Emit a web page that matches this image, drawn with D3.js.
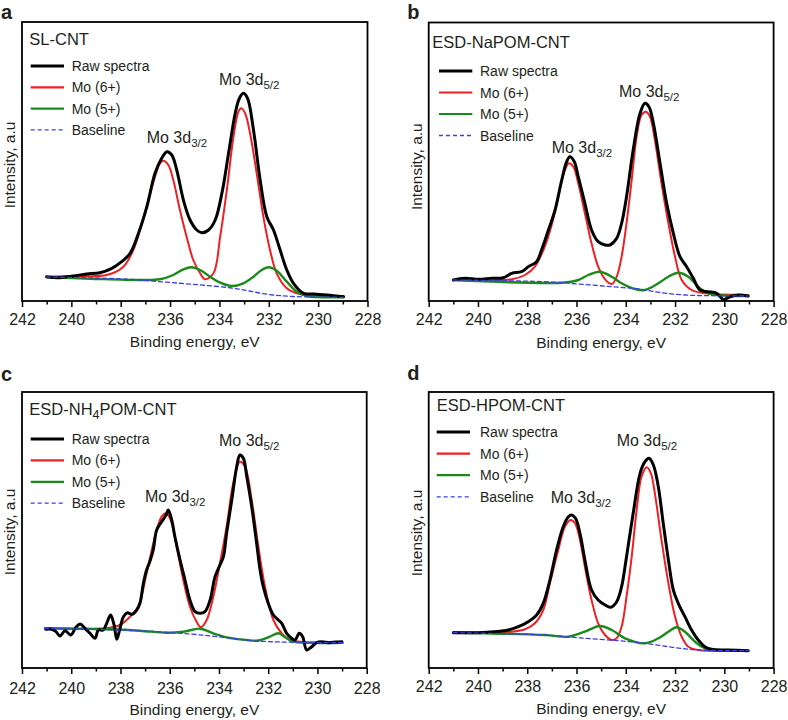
<!DOCTYPE html>
<html><head><meta charset="utf-8">
<script src="https://cdn.jsdelivr.net/npm/d3@7"></script>
<style>
body{margin:0;background:#fff}
svg{display:block}
text{font-family:"Liberation Sans",Arial,Helvetica,sans-serif;fill:#231f20}
</style>
</head><body>
<svg id="chart" width="788" height="720"></svg>
<script>
// ---------- DATA (binding energy eV, intensity a.u.) ----------
const panelLetters = ["a", "b", "c", "d"];
const sampleNames = [
  [["SL-CNT", false]],
  [["ESD-NaPOM-CNT", false]],
  [["ESD-NH", false], ["4", true], ["POM-CNT", false]],
  [["ESD-HPOM-CNT", false]]
];
const legendLabels = ["Raw spectra", "Mo (6+)", "Mo (5+)", "Baseline"];
const peakLabels = [["Mo 3d", "5/2"], ["Mo 3d", "3/2"]];
const xMajorTicks = [242, 240, 238, 236, 234, 232, 230, 228];
const xMinorTicks = [241, 239, 237, 235, 233, 231, 229];
const xTitle = "Binding energy, eV";
const yTitle = "Intensity, a.u";

const rawA = [[241.0,24.3],[240.46,23.3],[239.92,25],[239.38,27],[238.84,28.3],[238.36,32.7],[237.96,39.3],[237.62,47.7],[237.28,67.7],[236.94,94.3],[236.61,127.7],[236.34,142.7],[236.13,149.3],[235.93,146],[235.73,131],[235.46,101],[235.19,81],[234.92,71],[234.71,68.3],[234.44,71],[234.17,81],[233.90,107.7],[233.63,147.7],[233.36,187.7],[233.19,202.7],[233.03,207.7],[232.86,202.7],[232.62,171],[232.35,121],[232.08,84.3],[231.81,71],[231.54,51],[231.27,31],[231.0,17.7],[230.59,7.7],[230.19,7],[229.65,6],[228.97,4.3]];
const mo6A = [[241.0,24.3],[239.92,25],[238.57,26],[237.89,34.3],[237.49,51],[237.22,71],[236.95,94.3],[236.61,124.3],[236.41,137.7],[236.27,140.3],[236.07,136],[235.87,121],[235.60,91],[235.33,64.3],[235.06,41],[234.78,27.7],[234.58,21.7],[234.24,27.7],[233.97,64.3],[233.70,111],[233.43,164.3],[233.23,189.3],[233.12,192.7],[232.96,187.7],[232.76,167.7],[232.49,127.7],[232.22,84.3],[231.95,51],[231.68,27.7],[231.27,12.7],[230.87,7.7],[230.46,6],[228.97,5]];
const mo5A = [[241.0,23.7],[239.24,22.3],[237.22,21],[236.41,21.7],[235.87,26],[235.46,31.7],[235.12,33.7],[234.78,31],[234.38,24.3],[233.97,18.3],[233.50,15],[233.03,17.7],[232.62,24.3],[232.29,31],[232.00,33.7],[231.68,30.3],[231.27,19.3],[230.87,9.3],[230.46,5],[228.97,3.7]];
const baseA = [[241.0,24],[239.0,23],[237.5,21.5],[236.5,19.5],[235.5,17.5],[234.5,15.5],[233.5,13],[232.8,10],[232.0,6.5],[231.0,4.5],[228.97,3.7]];

const rawB = [[241.0,21],[240.53,22.7],[239.99,21.7],[239.44,22.7],[238.97,23.3],[238.63,27.7],[238.23,29.3],[237.96,34.3],[237.62,39.3],[237.42,51],[237.14,71],[236.87,91],[236.60,121],[236.40,139.3],[236.27,144.3],[236.09,139.3],[235.93,124.3],[235.66,97.7],[235.39,71],[235.12,59.3],[234.84,56],[234.64,56],[234.37,62.7],[234.17,77.7],[233.97,104.3],[233.70,151],[233.42,187.7],[233.22,197.7],[233.06,194.3],[232.88,177.7],[232.61,137.7],[232.34,97.7],[232.07,67.7],[231.80,44.3],[231.53,34.3],[231.26,22.7],[230.99,11],[230.65,9.3],[230.31,7.7],[230.04,1.5],[229.77,4.3],[229.43,6],[229.03,5]];
const mo6B = [[241.0,21],[238.63,21.7],[238.09,26],[237.69,34.3],[237.28,55],[237.01,76],[236.67,112],[236.47,131],[236.31,137.7],[236.13,134.3],[235.93,117.7],[235.66,87.7],[235.39,57.7],[235.12,34.3],[234.84,21.7],[234.57,17],[234.37,24.3],[234.17,44.3],[233.97,77.7],[233.76,121],[233.56,164.3],[233.36,186],[233.18,189.3],[233.02,184.3],[232.82,161],[232.55,117.7],[232.27,77.7],[232.00,44.3],[231.73,21],[231.33,11],[230.79,7.7],[229.03,6]];
const mo5B = [[241.0,21],[236.60,18.3],[235.93,21],[235.52,26],[235.05,29.3],[234.57,24.3],[234.17,17.7],[233.63,12],[233.22,11],[232.68,17.7],[232.27,24.3],[231.87,28.3],[231.46,24.3],[231.06,14.3],[230.65,7.7],[229.03,5]];
const baseB = [[241.0,21],[237.28,19.3],[235.93,17],[234.57,14.3],[233.49,12],[232.55,8.3],[231.6,6],[230.5,5.3],[229.03,5]];

const rawC = [[241.03,38.7],[240.79,38.7],[240.62,36.3],[240.46,32],[240.25,37.3],[240.02,33],[239.81,40.7],[239.64,44],[239.44,39.7],[239.24,34.7],[239.03,29.7],[238.90,38],[238.70,38],[238.56,44.7],[238.40,53],[238.26,43],[238.15,28.7],[238.02,39.7],[237.88,51.3],[237.72,55.3],[237.54,53.7],[237.34,58],[237.21,64.7],[237.07,84.7],[236.94,98],[236.80,107],[236.67,118],[236.53,138],[236.33,146.3],[236.15,153],[236.06,158],[235.92,148],[235.79,131.3],[235.58,108],[235.38,88],[235.18,68],[234.97,56.3],[234.77,54.7],[234.57,56.3],[234.36,68],[234.16,91.3],[233.96,103],[233.82,111.3],[233.69,134.7],[233.48,168],[233.28,201.3],[233.15,213],[233.01,209.7],[232.87,191.3],[232.67,161.3],[232.47,124.7],[232.33,98],[232.20,81.3],[232.00,64.7],[231.79,53],[231.59,48],[231.45,44.7],[231.25,34.7],[231.05,29.7],[230.91,28],[230.74,34.7],[230.60,31.3],[230.44,18],[230.23,21.3],[230.03,25.5],[229.83,26.3],[229.5,25.3],[229.29,26],[229.01,26.3]];
const mo6C = [[241.07,39.7],[238.56,39.7],[238.02,43],[237.61,51.3],[237.28,61.3],[236.94,94.7],[236.60,131.3],[236.33,151.3],[236.15,154.7],[235.96,148],[235.72,121.3],[235.45,88],[235.18,61.3],[234.91,46.3],[234.73,40.7],[234.50,48],[234.23,71.3],[233.96,104.7],[233.69,141.3],[233.42,184.7],[233.15,206.3],[232.94,201.3],[232.67,168],[232.40,121.3],[232.13,81.3],[231.79,48],[231.45,34.7],[231.11,28],[230.71,26.3],[228.98,25.3]];
const mo5C = [[241.07,39.7],[238.56,38.7],[237.21,37.3],[236.12,35.3],[235.45,36.3],[234.77,39.3],[234.23,34.7],[233.69,30.7],[232.87,28],[232.47,27.3],[231.93,31.3],[231.59,34.7],[231.25,29.7],[230.98,26.3],[228.98,25.3]];
const baseC = [[241.07,39.7],[237.28,37.3],[235.18,34],[233.82,30.7],[232.6,27.3],[231.5,26],[228.98,25.3]];

const rawD = [[241.0,35.3],[239.99,35.3],[239.31,36.3],[238.77,38],[238.36,41.3],[237.96,46.3],[237.62,53],[237.35,64.7],[237.08,88],[236.81,118],[236.54,141.3],[236.33,151.3],[236.20,153],[236.04,149.7],[235.86,134.7],[235.66,108],[235.39,78],[235.12,68],[234.84,63],[234.62,60.7],[234.37,66.3],[234.17,81.3],[233.97,111.3],[233.70,154.7],[233.42,194.7],[233.22,206.3],[233.06,209.7],[232.88,203],[232.68,181.3],[232.48,144.7],[232.27,108],[232.07,78],[231.87,64.7],[231.60,51.3],[231.33,38],[231.06,28],[230.79,21.3],[230.52,18.7],[229.84,18],[229.03,17.3]];
const mo6D = [[241.0,35.3],[238.63,36.3],[238.09,38.7],[237.69,44.7],[237.35,58],[237.08,84.7],[236.74,118],[236.47,141.3],[236.24,148],[236.06,144.7],[235.86,128],[235.66,101.3],[235.39,68],[235.12,44.7],[234.84,33],[234.57,28],[234.37,29.7],[234.17,41.3],[233.97,71.3],[233.76,111.3],[233.56,158],[233.36,191.3],[233.15,200.7],[232.98,194.7],[232.82,174.7],[232.55,128],[232.27,84.7],[232.00,51.3],[231.73,31.3],[231.46,21.3],[231.06,18],[229.03,17.3]];
const mo5D = [[241.0,35.3],[237.28,33],[236.33,31.3],[235.66,36.3],[235.05,42],[234.57,38],[234.03,29.7],[233.22,24.7],[232.68,29.7],[232.27,36.3],[231.94,40.7],[231.60,36.3],[231.19,26.3],[230.79,19.7],[229.03,17.3]];
const baseD = [[241.0,35.3],[237.28,33],[235.66,29.7],[234.3,27.3],[233.22,24.7],[232.1,20.7],[231.06,18],[229.03,17.3]];

// ---------- LAYOUT ----------
const panels = [
  {raw: rawA, mo6: mo6A, mo5: mo5A, base: baseA, frame: [22, 367.5, 22, 301], yMax: 279,
   letter: [1, 18.5], name: [29.3, 45], legend: {x: 30.7, y: 66, step: 21.3, tx: 71.7},
   p52: [219, 85], p32: [146.7, 142.5], ylab: [15, 165], tickBase: 325, titleBase: 347},
  {raw: rawB, mo6: mo6B, mo5: mo5B, base: baseB, frame: [428.7, 773.6, 22.5, 301], yMax: 278.5,
   letter: [407.3, 18.5], name: [432.3, 48.3], legend: {x: 439, y: 71, step: 21.5, tx: 480},
   p52: [619, 97], p32: [551.7, 153], ylab: [422, 166.7], tickBase: 325, titleBase: 348},
  {raw: rawC, mo6: mo6C, mo5: mo5C, base: baseC, frame: [22, 366.7, 392, 668], yMax: 276,
   letter: [1, 380.5], name: [29.3, 415], legend: {x: 30.7, y: 439, step: 21.4, tx: 71.7},
   p52: [219, 446], p32: [145, 501.5], ylab: [15, 532], tickBase: 693.5, titleBase: 715},
  {raw: rawD, mo6: mo6D, mo5: mo5D, base: baseD, frame: [428.7, 773.6, 392, 668], yMax: 276,
   letter: [407.3, 380], name: [436.7, 411], legend: {x: 436.7, y: 432, step: 21.6, tx: 480},
   p52: [616.7, 446], p32: [550.7, 502.5], ylab: [421.7, 533], tickBase: 692, titleBase: 713.5}
];

const styles = [
  {color: "#000000", width: 3.0, dash: null},
  {color: "#ee2024", width: 2.0, dash: null},
  {color: "#1b8a1b", width: 2.4, dash: null},
  {color: "#3c3cf0", width: 1.3, dash: "4,3"}
];

const svg = d3.select("#chart");

panels.forEach((p, i) => {
  const [x0, x1, y0, y1] = p.frame;
  const x = d3.scaleLinear().domain([242, 228]).range([x0, x1]);
  const y = d3.scaleLinear().domain([0, p.yMax]).range([y1, y0]);
  const g = svg.append("g");

  const line = d3.line().x(d => x(d[0])).y(d => y(d[1])).curve(d3.curveCatmullRom.alpha(0.5));

  // curves: red, green, raw, baseline
  const order = [[p.mo6, 1], [p.mo5, 2], [p.raw, 0], [p.base, 3]];
  order.forEach(([data, si]) => {
    const s = styles[si];
    g.append("path").datum(data).attr("d", line)
      .attr("fill", "none").attr("stroke", s.color).attr("stroke-width", s.width)
      .attr("stroke-linejoin", "round").attr("stroke-linecap", "round")
      .attr("stroke-dasharray", s.dash);
  });

  // frame
  g.append("rect").attr("x", x0).attr("y", y0).attr("width", x1 - x0).attr("height", y1 - y0)
    .attr("fill", "none").attr("stroke", "#000").attr("stroke-width", 1.8);

  // axes
  const major = g.append("g").attr("transform", `translate(0,${y1})`)
    .call(d3.axisBottom(x).tickValues(xMajorTicks).tickSize(6).tickPadding(7).tickFormat(d3.format("d")));
  major.select(".domain").remove();
  major.selectAll("line").attr("stroke", "#000").attr("stroke-width", 1.5);
  major.selectAll("text").attr("font-size", 16).attr("fill", "#231f20")
    .attr("font-family", "Liberation Sans, Arial, sans-serif")
    .attr("dy", null).attr("y", p.tickBase - y1);
  const minor = g.append("g").attr("transform", `translate(0,${y1})`)
    .call(d3.axisBottom(x).tickValues(xMinorTicks).tickSize(3.5).tickFormat(""));
  minor.select(".domain").remove();
  minor.selectAll("line").attr("stroke", "#000").attr("stroke-width", 1.5);

  // axis titles
  g.append("text").attr("x", (x0 + x1) / 2).attr("y", p.titleBase)
    .attr("text-anchor", "middle").attr("font-size", 15.5).text(xTitle);
  g.append("text").attr("transform", `translate(${p.ylab[0]},${p.ylab[1]}) rotate(-90)`)
    .attr("text-anchor", "middle").attr("font-size", 15.5).text(yTitle);

  // panel letter
  g.append("text").attr("x", p.letter[0]).attr("y", p.letter[1])
    .attr("font-size", 20).attr("font-weight", "bold").text(panelLetters[i]);

  // sample name
  const nt = g.append("text").attr("x", p.name[0]).attr("y", p.name[1]).attr("font-size", 16.5);
  let prevSub = false;
  sampleNames[i].forEach(([t, sub]) => {
    const ts = nt.append("tspan").text(t);
    if (sub) { ts.attr("font-size", 12.5).attr("dy", 4); prevSub = true; }
    else if (prevSub) { ts.attr("dy", -4); prevSub = false; }
  });

  // legend
  legendLabels.forEach((lab, k) => {
    const s = styles[k];
    const ly = p.legend.y + k * p.legend.step;
    g.append("line").attr("x1", p.legend.x).attr("x2", p.legend.x + 33.3)
      .attr("y1", ly).attr("y2", ly)
      .attr("stroke", s.color).attr("stroke-width", s.width === 1.3 ? 1.3 : (k === 0 ? 3 : 2.2))
      .attr("stroke-dasharray", s.dash);
    g.append("text").attr("x", p.legend.tx).attr("y", ly + 5).attr("font-size", 14).text(lab);
  });

  // peak labels
  [p.p52, p.p32].forEach((pos, k) => {
    const t = g.append("text").attr("x", pos[0]).attr("y", pos[1]).attr("font-size", 16);
    t.append("tspan").text(peakLabels[k][0]);
    t.append("tspan").attr("font-size", 11.5).attr("dy", 4).text(peakLabels[k][1]);
  });
});
</script>
</body></html>
